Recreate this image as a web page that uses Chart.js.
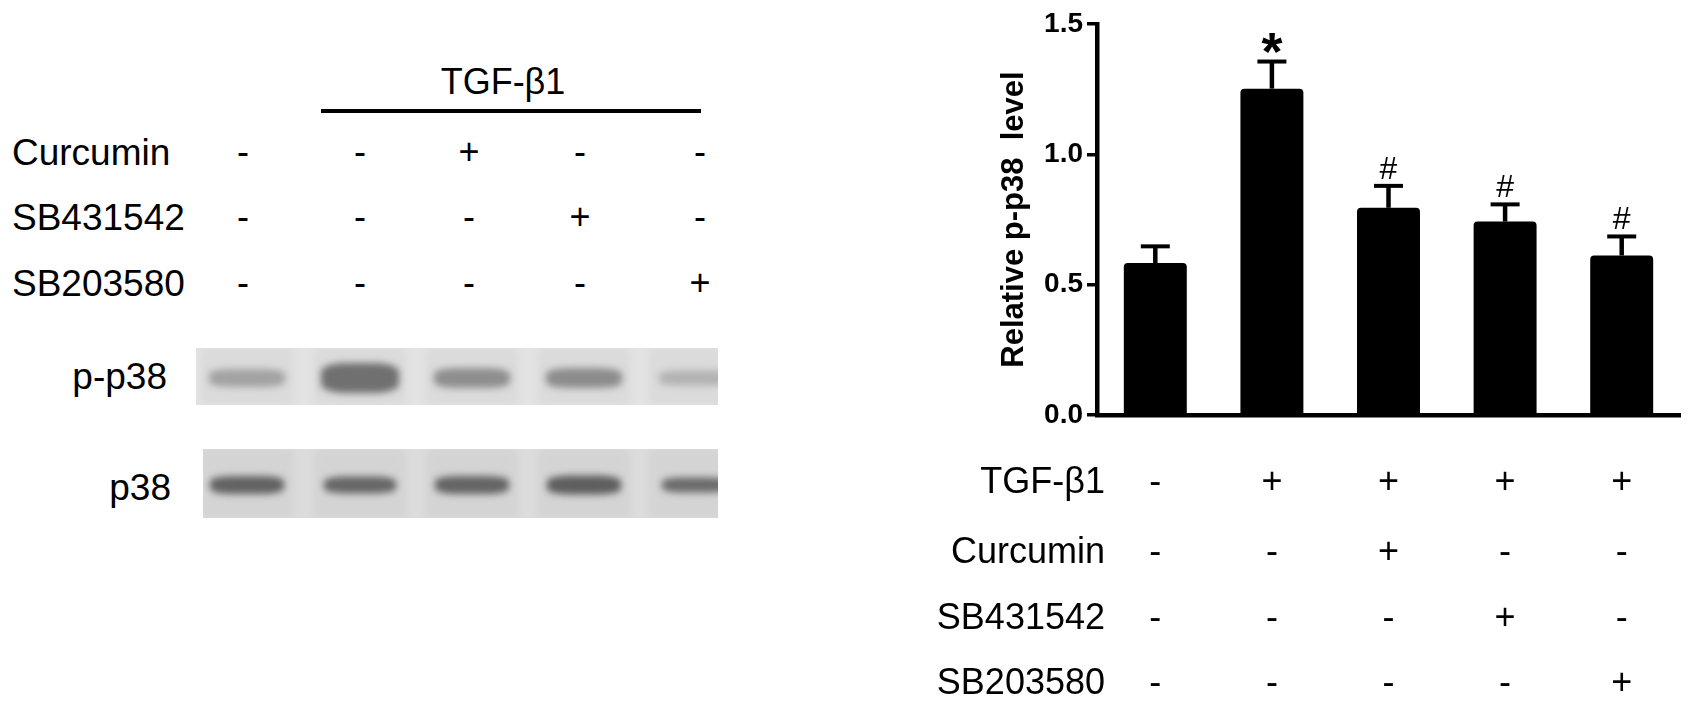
<!DOCTYPE html>
<html>
<head>
<meta charset="utf-8">
<script src="https://cdn.jsdelivr.net/npm/chart.js@4.4.0/dist/chart.umd.min.js"></script>
<style>
  html, body { margin: 0; padding: 0; background: #fff; }
  body { width: 1694px; height: 709px; position: relative; overflow: hidden;
         font-family: "Liberation Sans", Arial, sans-serif; color: #000; }
  .lbl { position: absolute; font-size: 37px; line-height: 1; transform: translateY(-50%); white-space: nowrap; }
  .lbl.right { transform: translate(-100%, -50%); }
  .sym { position: absolute; font-size: 36px; line-height: 1; transform: translate(-50%, -50%); }
  .blot { position: absolute; overflow: hidden; }
  .band { position: absolute; border-radius: 30%; filter: blur(3.5px); transform: translate(-50%, -50%); }
  .lane { position: absolute; top: 0; bottom: 0; filter: blur(4px); transform: translateX(-50%); }
  #chartBox { position: absolute; left: 900px; top: 0; width: 794px; height: 709px; }
</style>
</head>
<body>
<div id="left"></div>
<div id="chartBox"><canvas id="pp38Chart" width="794" height="709"></canvas></div>
<script>
// data
const groups = ['Control', 'TGF-β1', 'TGF-β1 + Curcumin', 'TGF-β1 + SB431542', 'TGF-β1 + SB203580'];
const pp38Level = [0.583, 1.252, 0.795, 0.742, 0.612];
const pp38Error = [0.064, 0.104, 0.084, 0.066, 0.073];
const sigMarks = ['', '*', '#', '#', '#'];
const yTicks = [0, 0.5, 1.0, 1.5];

const treatmentNames = ['TGF-β1', 'Curcumin', 'SB431542', 'SB203580'];
const tgfRow = ['-', '+', '+', '+', '+'];
const curcuminRow = ['-', '-', '+', '-', '-'];
const sb431542Row = ['-', '-', '-', '+', '-'];
const sb203580Row = ['-', '-', '-', '-', '+'];

// western blot lanes: band darkness (0..1) and thickness
const pp38Bands = [0.3, 0.55, 0.4, 0.41, 0.22];
const pp38BandHeights = [18, 30, 20, 20, 15];
const p38Bands = [0.62, 0.6, 0.61, 0.64, 0.58];

const FONT = '"Liberation Sans", Arial, sans-serif';

// ---------- left panel (blot + treatment table) ----------
const left = document.getElementById('left');
const laneX = [247, 360, 472, 584, 695];
const symX = [243, 360, 469, 580, 700];

function addDiv(cls, style, text) {
    const d = document.createElement('div');
    d.className = cls;
    Object.assign(d.style, style);
    if (text !== undefined) d.textContent = text;
    left.appendChild(d);
    return d;
}

// TGF-β1 header with line over lanes 2-5
addDiv('sym', { left: '503px', top: '82px' }, 'TGF-β1');
addDiv('', { position: 'absolute', left: '321px', top: '109px', width: '380px', height: '4px', background: '#000' });

const leftRows = [curcuminRow, sb431542Row, sb203580Row];
const leftRowY = [152, 217, 283];
leftRows.forEach((row, r) => {
    addDiv('lbl', { left: '12px', top: leftRowY[r] + 'px' }, treatmentNames[r + 1]);
    row.forEach((s, i) => addDiv('sym', { left: symX[i] + 'px', top: leftRowY[r] + 'px' }, s));
});

addDiv('lbl right', { left: '167px', top: '376px' }, 'p-p38');
addDiv('lbl right', { left: '171px', top: '487px' }, 'p38');

function gray(d) {
    const g = Math.round(222 - d * 200);
    return 'rgb(' + g + ',' + g + ',' + g + ')';
}

function makeBlot(x, y, w, h, bg, bands, heights, bandW) {
    const b = addDiv('blot', { left: x + 'px', top: y + 'px', width: w + 'px', height: h + 'px', background: bg });
    laneX.forEach((lx, i) => {
        const lane = document.createElement('div');
        lane.className = 'lane';
        Object.assign(lane.style, { left: (lx - x) + 'px', width: '92px', background: 'rgba(0,0,0,0.035)' });
        b.appendChild(lane);
        const band = document.createElement('div');
        band.className = 'band';
        Object.assign(band.style, {
            left: (lx - x) + 'px', top: (h / 2 + 1) + 'px',
            width: bandW[i] + 'px', height: heights[i] + 'px', background: gray(bands[i])
        });
        b.appendChild(band);
    });
}
makeBlot(196, 348, 522, 57, '#e3e3e3', pp38Bands, pp38BandHeights, [76, 78, 76, 76, 72]);
makeBlot(203, 449, 515, 69, '#dcdcdc', p38Bands, [18, 17, 18, 19, 15], [74, 72, 74, 74, 66]);

// ---------- chart ----------
const errorBars = {
    id: 'errorBars',
    afterDatasetsDraw(chart) {
        const ctx = chart.ctx;
        const y = chart.scales.y;
        const meta = chart.getDatasetMeta(0);
        ctx.save();
        ctx.strokeStyle = '#000';
        ctx.fillStyle = '#000';
        meta.data.forEach((bar, i) => {
            const top = y.getPixelForValue(pp38Level[i] + pp38Error[i]);
            ctx.lineWidth = 4.5;
            ctx.beginPath();
            ctx.moveTo(bar.x, bar.y);
            ctx.lineTo(bar.x, top);
            ctx.stroke();
            ctx.lineWidth = 4;
            ctx.beginPath();
            ctx.moveTo(bar.x - 14.5, top);
            ctx.lineTo(bar.x + 14.5, top);
            ctx.stroke();

            if (sigMarks[i]) {
                ctx.font = sigMarks[i] === '*' ? 'bold 54px ' + FONT : '32px ' + FONT;
                ctx.textAlign = 'center';
                ctx.textBaseline = 'alphabetic';
                const m = ctx.measureText(sigMarks[i]);
                const cy = top - 18;
                ctx.fillText(sigMarks[i], bar.x, cy + (m.actualBoundingBoxAscent - m.actualBoundingBoxDescent) / 2);
            }
        });
        ctx.restore();
    }
};

const treatmentTable = {
    id: 'treatmentTable',
    afterDraw(chart) {
        const ctx = chart.ctx;
        const x = chart.scales.x;
        const rows = [tgfRow, curcuminRow, sb431542Row, sb203580Row];
        const rowY = [483, 553, 619, 684];
        ctx.save();
        ctx.fillStyle = '#000';
        ctx.font = '36px ' + FONT;
        ctx.textBaseline = 'middle';
        rows.forEach((row, r) => {
            ctx.textAlign = 'right';
            ctx.fillText(treatmentNames[r], 205, rowY[r]);
            ctx.textAlign = 'center';
            row.forEach((s, i) => ctx.fillText(s, x.getPixelForValue(i), rowY[r]));
        });
        ctx.restore();
    }
};

new Chart(document.getElementById('pp38Chart'), {
    type: 'bar',
    data: {
        labels: groups,
        datasets: [{
            label: 'Relative p-p38 level',
            data: pp38Level,
            backgroundColor: '#000',
            borderWidth: 0,
            borderRadius: { topLeft: 4, topRight: 4, bottomLeft: 0, bottomRight: 0 },
            borderSkipped: 'start',
            barPercentage: 0.54,
            categoryPercentage: 1
        }]
    },
    options: {
        responsive: false,
        animation: false,
        devicePixelRatio: 1,
        layout: { padding: { left: 0, right: 14, top: 24, bottom: 0 } },
        plugins: { legend: { display: false }, tooltip: { enabled: false } },
        scales: {
            x: {
                type: 'category',
                ticks: { display: false },
                grid: { display: false, drawTicks: false },
                border: { display: true, color: '#000', width: 4.5 },
                afterFit: s => { s.height = 294; }
            },
            y: {
                min: 0,
                max: 1.5,
                afterBuildTicks: s => { s.ticks = yTicks.map(v => ({ value: v })); },
                afterFit: s => { s.width = 197; },
                ticks: {
                    color: '#000',
                    padding: 4,
                    font: { family: FONT, size: 28, weight: 'bold' },
                    callback: v => Number(v).toFixed(1)
                },
                grid: { display: true, drawOnChartArea: false, drawTicks: true, tickLength: 10, color: '#000', lineWidth: 3.5 },
                border: { display: true, color: '#000', width: 4.5 },
                title: {
                    display: true,
                    text: 'Relative p-p38  level',
                    color: '#000',
                    font: { family: FONT, size: 31, weight: 'bold' },
                    padding: { top: 96, bottom: 0 }
                }
            }
        }
    },
    plugins: [errorBars, treatmentTable]
});
</script>
</body>
</html>
